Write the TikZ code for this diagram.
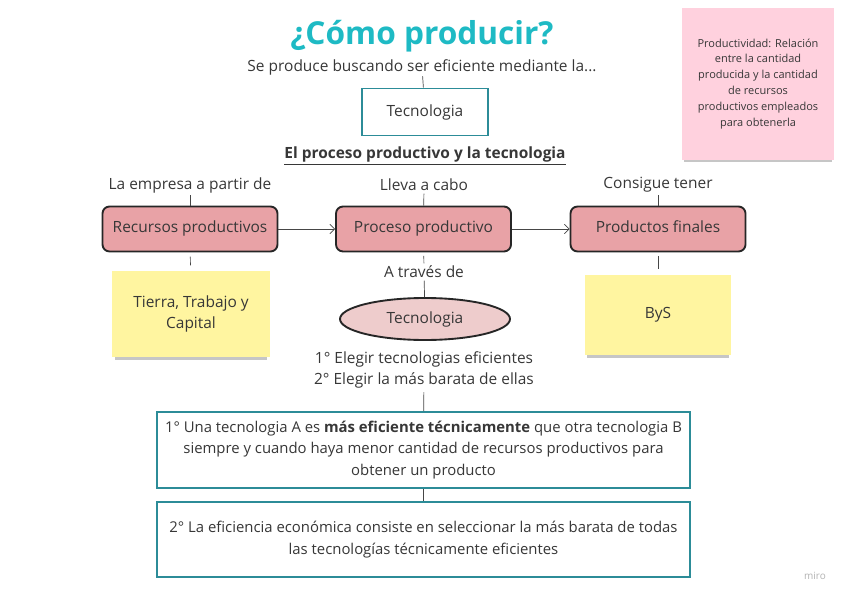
\documentclass[tikz,border=0pt]{standalone}
\usepackage{fontspec}
\setmainfont{Open Sans}
\usetikzlibrary{arrows.meta,positioning,shapes.geometric,shadows}
\definecolor{titleteal}{RGB}{30,186,196}
\definecolor{boxteal}{RGB}{44,140,152}
\definecolor{boxpink}{RGB}{232,162,166}
\definecolor{ovalpink}{RGB}{238,204,204}
\definecolor{stickyyellow}{RGB}{255,245,160}
\definecolor{stickypink}{RGB}{255,209,222}
\definecolor{textgray}{RGB}{55,55,55}
\definecolor{linegray}{RGB}{70,70,70}

\tikzset{
  txt/.style={text=textgray, font=\fontsize{13.2}{17.9}\selectfont, align=center, inner sep=2pt},
  tealbox/.style={txt, draw=boxteal, line width=1.6pt, fill=white},
  procbox/.style={txt, font=\fontsize{13.2}{15}\selectfont, draw=black!85, line width=1.6pt, fill=boxpink,
    rounded corners=6pt, minimum width=5.25cm, minimum height=1.35cm, text height=1.6ex, text depth=0.5ex},
  sticky/.style={txt, fill=#1, drop shadow={shadow xshift=0pt, shadow yshift=-4pt, shadow scale=0.97, opacity=0.45}},
  link/.style={draw=linegray, line width=0.6pt},
  flow/.style={link, -{Straight Barb[length=4pt,width=8pt]}}
}

\begin{document}
\begin{tikzpicture}[x=0.03cm, y=-0.03cm]
  \useasboundingbox (0,0) rectangle (848,599);

  % Title
  \node[inner sep=0pt, text=titleteal, font=\fontsize{27}{32}\selectfont\bfseries] (title) at (422,36) {¿Cómo producir?};
  \node[txt, inner sep=1pt] (subtitle) at (422,67) {Se produce buscando ser eficiente mediante la...};
  \node[tealbox, minimum width=3.78cm, minimum height=1.41cm] (techtop) at (425,112) {Tecnologia};
  \draw[link] (subtitle) -- (techtop);

  % Note
  \node[sticky=stickypink, minimum width=4.56cm, minimum height=4.56cm,
        font=\fontsize{9.4}{13.6}\selectfont] (note) at (758,84)
    {Productividad: Relación\\entre la cantidad\\producida y la cantidad\\de recursos\\productivos empleados\\para obtenerla};

  \node[txt, font=\fontsize{13.2}{15}\selectfont\bfseries] (heading) at (425,156)
    {\underline{El proceso productivo y la tecnologia}};

  % Process row
  \node[procbox] (recursos) at (190,229) {Recursos productivos};
  \node[procbox] (proceso) at (423.5,229) {Proceso productivo};
  \node[procbox] (productos) at (658,229) {Productos finales};
  \node[txt] (lblrec) at (190,185) {La empresa a partir de};
  \node[txt] (lblproc) at (424,185) {Lleva a cabo};
  \node[txt] (lblprod) at (658,185) {Consigue tener};
  \draw[link] (lblrec) -- (recursos);
  \draw[link] (lblproc) -- (proceso);
  \draw[link] (lblprod) -- (productos);
  \draw[flow] (recursos) -- (proceso);
  \draw[flow] (proceso) -- (productos);

  % Stickies under the row
  \node[sticky=stickyyellow, minimum width=4.71cm, minimum height=2.55cm] (tierra) at (191,314) {Tierra, Trabajo y\\Capital};
  \node[sticky=stickyyellow, minimum width=4.38cm, minimum height=2.4cm] (bys) at (658,315) {ByS};
  \draw[link, shorten <=3.5pt, shorten >=5pt] (recursos) -- (tierra);
  \draw[link, shorten <=3pt, shorten >=5pt] (productos) -- (bys);

  % Technology
  \node[txt] (atraves) at (424,272) {A través de};
  \node[txt, ellipse, draw=black!85, line width=1.6pt, fill=ovalpink, minimum width=5.1cm, minimum height=1.26cm] (tecno) at (425,319) {Tecnologia};
  \node[txt, inner sep=3pt] (pasos) at (424,370) {1° Elegir tecnologias eficientes\\2° Elegir la más barata de ellas};
  \draw[link, shorten <=3pt] (proceso) -- (atraves);
  \draw[link] (atraves) -- (tecno);

  % Efficiency boxes
  \node[tealbox, font=\fontsize{12.7}{18.7}\selectfont, minimum width=15.99cm, minimum height=2.28cm] (tecnica) at (423.5,450)
    {1° Una tecnologia A es \textbf{más eficiente técnicamente} que otra tecnologia B\\siempre y cuando haya menor cantidad de recursos productivos para\\obtener un producto};
  \node[tealbox, font=\fontsize{12.7}{18.7}\selectfont, minimum width=15.99cm, minimum height=2.25cm] (economica) at (423.5,539.5)
    {2° La eficiencia económica consiste en seleccionar la más barata de todas\\las tecnologías técnicamente eficientes};
  \draw[link] (pasos) -- (tecnica);
  \draw[link] (tecnica) -- (economica);

  \node[text=black!30, font=\fontsize{8.5}{9}\selectfont, inner sep=0pt] (miro) at (815,576) {miro};
\end{tikzpicture}
\end{document}
